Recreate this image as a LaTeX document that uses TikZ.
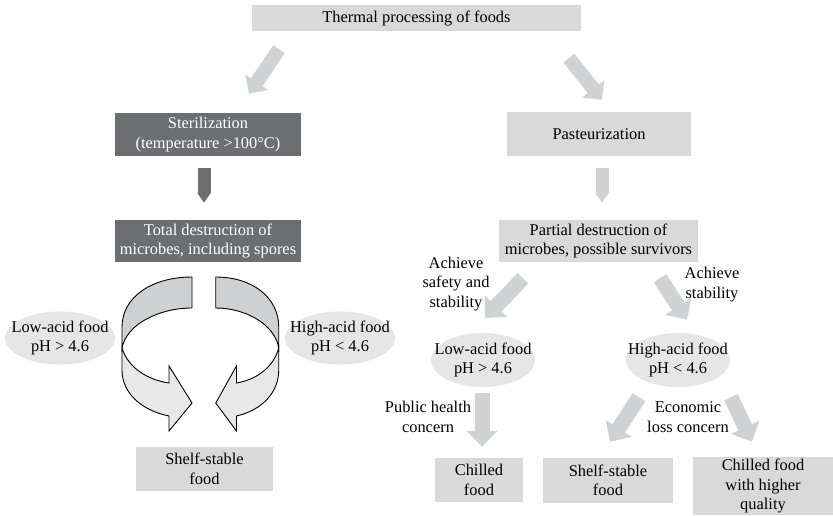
\documentclass[tikz,border=0pt]{standalone}
\usepackage{fontspec}
\setmainfont{Liberation Serif}
\usetikzlibrary{calc, arrows.meta, shapes.geometric}

\definecolor{boxgray}{HTML}{D9D9DA}
\definecolor{procdark}{HTML}{6D6E71}
\definecolor{ovalgray}{HTML}{E6E6E7}
\definecolor{arrowgray}{HTML}{D1D2D4}
\definecolor{backgray}{HTML}{CFD0D2}
\definecolor{frontgray}{HTML}{E8E8E9}

\begin{document}
\begin{tikzpicture}[
    x = 1pt, y = -1pt,
    every node/.style = {align = center, inner sep = 0pt,
                         font = \fontsize{16.4}{19.5}\selectfont},
    lightbox/.style = {fill = boxgray, minimum height = 44pt},
    darkbox/.style  = {fill = procdark, text = white, minimum height = 43pt},
    oval/.style     = {ellipse, fill = ovalgray, inner xsep = -15pt,
                       inner ysep = 0pt, minimum height = 53pt},
    bigarrow/.style = {draw = arrowgray, line width = 15pt,
                       -{Triangle[length = 16pt, width = 30pt]}},
    toparrow/.style = {draw = arrowgray, line width = 14pt,
                       -{Triangle[length = 14pt, width = 27pt]}},
    thinarrow/.style = {line width = 13pt,
                       -{Triangle[length = 10pt, width = 13pt]}},
    pics/twistarrow/.style = {code = {
      % back side of the ribbon
      \draw[fill = backgray, line width = 0.9pt]
        (-12.5,277) .. controls (-52.5,277) and (-82.5,297) .. (-82.5,327)
        -- (-82.5,348) .. controls (-78,324) and (-45,308) .. (-12.5,308)
        -- cycle;
      % front side with the head
      \draw[fill = frontgray, line width = 0.9pt, line join = miter]
        (-82.5,348) .. controls (-76.5,368) and (-56.5,380) .. (-35.5,383)
        -- (-35.5,366) -- (-12.5,403) -- (-35.5,431) -- (-35.5,416)
        .. controls (-64.5,410) and (-82.5,392) .. (-82.5,370) -- cycle;
    }}
  ]
  \useasboundingbox (0,0) rectangle (833,515);

  % Boxes
  \node[lightbox, minimum width = 329pt, minimum height = 26pt] (top)
    at (416.5,18) {Thermal processing of foods};
  \node[darkbox, minimum width = 186pt] (steril) at (208,134.5)
    {Sterilization\\(temperature >100°C)};
  \node[lightbox, minimum width = 184pt] (past) at (599,134) {Pasteurization};
  \node[darkbox, minimum width = 186pt, minimum height = 42pt] (total)
    at (208,241) {Total destruction of\\microbes, including spores};
  \node[lightbox, minimum width = 199pt, minimum height = 42pt] (partial)
    at (598.5,241) {Partial destruction of\\microbes, possible survivors};

  % Left branch
  \node[oval, minimum width = 110pt] (lowL) at (60,338)
    {Low-acid food\\pH > 4.6};
  \node[oval, minimum width = 110pt] (highL) at (340,338)
    {High-acid food\\pH < 4.6};
  \node[lightbox, minimum width = 137pt] (shelfL) at (204.5,469)
    {Shelf-stable\\food};
  \pic at (204.5,0) {twistarrow};
  \pic[xscale = -0.9] at (204.5,0) {twistarrow};

  % Right branch
  \node[oval, minimum width = 104pt, minimum height = 54pt] (lowR)
    at (483,360) {Low-acid food\\pH > 4.6};
  \node[oval, minimum width = 104pt, minimum height = 54pt] (highR)
    at (678,360) {High-acid food\\pH < 4.6};
  \node[lightbox, minimum width = 88pt] (chilled) at (479,480)
    {Chilled\\food};
  \node[lightbox, minimum width = 130pt, minimum height = 45pt] (shelfR)
    at (608,480.5) {Shelf-stable\\food};
  \node[lightbox, minimum width = 140pt, minimum height = 58pt] (chilledHQ)
    at (763,486) {Chilled food\\with higher\\quality};

  % Arrows
  \draw[toparrow] ($(top.south)+(-137.5,18)$) -- ($(steril.north)+(41,-19)$);
  \draw[toparrow] ($(top.south)+(152.5,27)$) -- ($(past.north)+(3,-12)$);
  \draw[thinarrow, draw = procdark] ($(steril.south)+(-4,12)$)
    -- ($(total.north)+(-4,-17)$);
  \draw[thinarrow, draw = arrowgray] ($(past.south)+(3,12)$)
    -- ($(partial.north)+(3.5,-17)$);
  \draw[bigarrow] ($(partial.south)+(-75.5,16)$) -- ($(lowR.north)+(2,-15)$);
  \draw[bigarrow] ($(partial.south)+(61.5,16)$) -- ($(highR.north)+(9,-13)$);
  \draw[bigarrow] ($(lowR.south)+(-1,6)$) -- ($(chilled.north)+(3,-11)$);
  \draw[bigarrow] ($(highR.south)+(-39,10)$) -- ($(shelfR.north)+(2,-16)$);
  \draw[bigarrow] ($(highR.south)+(53,10)$) -- ($(chilledHQ.north)+(-11,-15)$);

  % Labels
  \node (safety) at (456,284) {Achieve\\safety and\\stability};
  \node (stab) at (712,284.5) {Achieve\\stability};
  \node (health) at (428,417) {Public health\\concern};
  \node (loss) at (688,417) {Economic\\loss concern};

\end{tikzpicture}
\end{document}
